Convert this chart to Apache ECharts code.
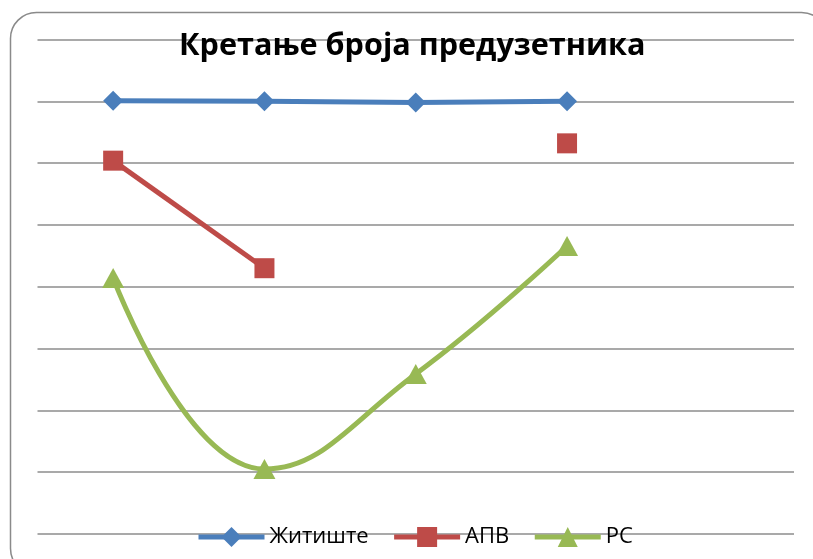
<!DOCTYPE html>
<html>
<head>
<meta charset="utf-8">
<script src="https://cdn.jsdelivr.net/npm/echarts@6/dist/echarts.min.js"></script>
<style>
html,body{margin:0;padding:0;background:#fff;}
#chart{width:813px;height:559px;}
</style>
</head>
<body>
<div id="chart"></div>
<script>
const categories = ['1', '2', '3', '4', ''];
const zitiste = [7.01, 7.0, 6.98, 7.0];
const apv = [6.04, 4.30, null, 6.32];
const rs = [4.14, 1.05, 2.59, 4.66];
const seriesNames = ['Житиште', 'АПВ', 'РС'];
const titleText = 'Кретање броја предузетника';

const chart = echarts.init(document.getElementById('chart'));
chart.setOption({
  animation: false,
  backgroundColor: '#fff',
  graphic: [{
    type: 'rect', left: 8, top: 10, z: -1,
    shape: { width: 817, height: 562, r: 26 },
    style: { fill: 'none', stroke: '#8a8a8a', lineWidth: 1.5 }
  }],
  title: {
    text: titleText, left: 174, top: 26,
    textStyle: { fontFamily: 'Open Sans', fontWeight: 'bold', fontSize: 30.6, color: '#000' }
  },
  legend: {
    left: 191, top: 521,
    itemWidth: 66, itemHeight: 25, itemGap: 23,
    lineStyle: { width: 5 },
    textStyle: { fontFamily: 'Open Sans', fontSize: 22, color: '#000' },
    data: seriesNames
  },
  grid: { left: 37.5, right: 19, top: 39.5, bottom: 25 },
  xAxis: {
    type: 'category', data: categories, boundaryGap: true,
    axisLine: { show: false }, axisTick: { show: false }, axisLabel: { show: false }
  },
  yAxis: {
    type: 'value', min: 0, max: 8, interval: 1,
    axisLine: { show: false }, axisTick: { show: false }, axisLabel: { show: false },
    splitLine: { lineStyle: { color: '#8c8c8c', width: 1.5 } }
  },
  series: [
    { name: seriesNames[0], type: 'line', data: zitiste, symbol: 'diamond', symbolSize: 20,
      color: '#4A7EBB', lineStyle: { width: 5 }, connectNulls: false },
    { name: seriesNames[1], type: 'line', data: apv, symbol: 'rect', symbolSize: 20,
      color: '#BE4B48', lineStyle: { width: 5 }, connectNulls: false },
    { name: seriesNames[2], type: 'line', data: rs, symbol: 'triangle', symbolSize: [22, 20], smooth: 0.45,
      color: '#98B954', lineStyle: { width: 5 } }
  ]
});
</script>
</body>
</html>
